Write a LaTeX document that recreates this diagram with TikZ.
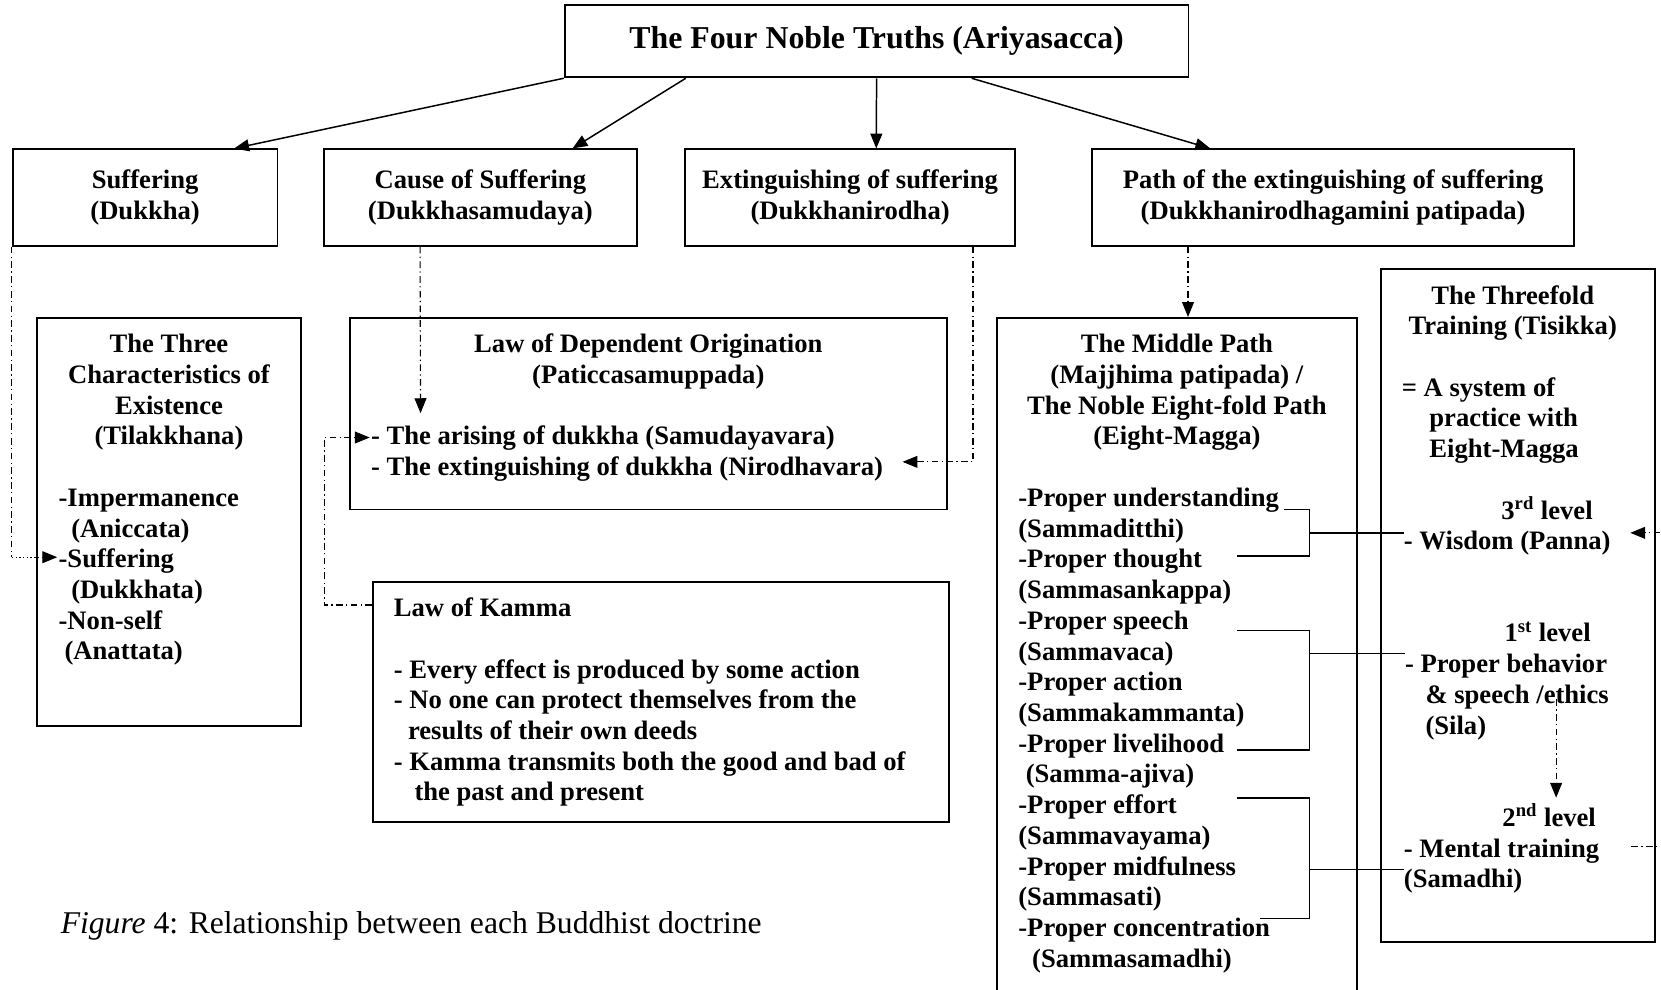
\documentclass[tikz,border=0pt]{standalone}
\usepackage{fontspec}
\setmainfont{Liberation Serif}
\usetikzlibrary{arrows.meta,calc}
\newcommand\bdfont{\fontsize{14.3}{16.5}\selectfont\bfseries}
\newcommand\ttlfont{\fontsize{17.1}{19.7}\selectfont\bfseries}
\newcommand\capfont{\fontsize{17}{19.6}\selectfont}
\begin{document}
\begin{tikzpicture}[x=0.02cm,y=-0.02cm,
  >={Triangle[length=8pt,width=6.4pt]},
  box/.style={draw,line width=1pt,inner sep=0pt,font=\bdfont},
  txt/.style={inner sep=0pt,font=\bdfont},
  solidarrow/.style={line width=0.8pt,->},
  brk/.style={line width=0.8pt},
  dd/.style={line width=0.6pt,dash pattern=on 3.6pt off 1.8pt on 0.7pt off 1.8pt},
  dotline/.style={line width=0.6pt,dash pattern=on 0.8pt off 1.2pt}]
\useasboundingbox (0,0) rectangle (1568,934);
\fill[white] (0,0) rectangle (1568,934);
\clip (0,0) rectangle (1568,934);

% Multi-line text nodes are placed by the baseline of their last line.

% ---- the four truths ----
\node[box,minimum width=11.78cm,minimum height=1.36cm,font=\ttlfont] (truths) at (827.5,39)
  {The Four Noble Truths (Ariyasacca)};
\node[box,align=center,minimum width=5cm,minimum height=1.82cm] (suffer) at (137,186.5)
  {Suffering\\(Dukkha)};
\node[box,align=center,minimum width=5.9cm,minimum height=1.82cm] (cause) at (453.5,186.5)
  {Cause of Suffering\\(Dukkhasamudaya)};
\node[box,align=center,minimum width=6.22cm,minimum height=1.82cm] (extin) at (802.5,186.5)
  {Extinguishing of suffering\\(Dukkhanirodha)};
\node[box,align=center,minimum width=9.1cm,minimum height=1.82cm] (pathb) at (1258.5,186.5)
  {Path of the extinguishing of suffering\\(Dukkhanirodhagamini patipada)};

\draw[solidarrow] (truths.south west) -- ($(suffer.north west)!0.834!(suffer.north east)$);
\draw[solidarrow] ($(truths.south west)!0.195!(truths.south east)$) -- ($(cause.north west)!0.793!(cause.north east)$);
\draw[solidarrow] (truths.south) -- ($(extin.north west)!0.579!(extin.north east)$);
\draw[solidarrow] ($(truths.south west)!0.652!(truths.south east)$) -- ($(pathb.north west)!0.246!(pathb.north east)$);

% ---- three characteristics ----
\node[box,minimum width=4.98cm,minimum height=7.7cm] (tilak) at (159.5,492.5) {};
\node[txt,align=center,anchor=base] (tilakHead) at (159.5,420)
  {The Three\\Characteristics of\\Existence\\(Tilakkhana)};
\node[txt,align=left,anchor=base west] (tilakList) at (55,623)
  {-Impermanence\\\hspace*{6.8pt}(Aniccata)\\-Suffering\\\hspace*{6.8pt}(Dukkhata)\\-Non-self\\\hspace*{3.2pt}(Anattata)};

% ---- dependent origination ----
\node[box,minimum width=11.28cm,minimum height=3.62cm] (depor) at (612,390.5) {};
\node[txt,align=center,anchor=base] (deporHead) at (612,362)
  {Law of Dependent Origination\\(Paticcasamuppada)};
\node[txt,align=left,anchor=base west] (deporList) at (350,449)
  {- The arising of dukkha (Samudayavara)\\- The extinguishing of dukkha (Nirodhavara)};

% ---- law of kamma ----
\node[box,minimum width=10.88cm,minimum height=4.54cm] (kamma) at (624,662.5) {};
\node[txt,align=left,anchor=base west] (kammaText) at (371.5,756)
  {Law of Kamma\\[16.5pt]- Every effect is produced by some action\\- No one can protect themselves from the\\\hspace*{7.6pt}results of their own deeds\\- Kamma transmits both the good and bad of\\\hspace*{11.1pt}the past and present};

% ---- middle path ----
\node[box,minimum width=6.8cm,minimum height=13.2cm] (middle) at (1111,630) {};
\node[txt,align=center,anchor=base] (midHead) at (1111,420)
  {The Middle Path\\(Majjhima patipada) /\\The Noble Eight-fold Path\\(Eight-Magga)};
\node[txt,align=left,anchor=base west] (midList) at (961,913)
  {-Proper understanding\\(Sammaditthi)\\-Proper thought\\(Sammasankappa)\\-Proper speech\\(Sammavaca)\\-Proper action\\(Sammakammanta)\\-Proper livelihood\\\hspace*{4pt}(Samma-ajiva)\\-Proper effort\\(Sammavayama)\\-Proper midfulness\\(Sammasati)\\-Proper concentration\\\hspace*{7.4pt}(Sammasamadhi)};

% ---- threefold training ----
\node[box,minimum width=5.16cm,minimum height=12.7cm] (three) at (1433,571.5) {};
\node[txt,align=center,anchor=base] (threeHead) at (1428,316)
  {The Threefold\\Training (Tisikka)};
\node[txt,align=left,anchor=base west] (threeSys) at (1323,432)
  {= A system of\\\hspace*{14.8pt}practice with\\\hspace*{14.8pt}Eight-Magga};
\node[txt,anchor=base west] (lvlThree) at (1417,490) {3\textsuperscript{rd} level};
\node[txt,anchor=base west] (wisdom) at (1325,519) {- Wisdom (Panna)};
\node[txt,anchor=base west] (lvlOne) at (1420,606) {1\textsuperscript{st} level};
\node[txt,align=left,anchor=base west] (sila) at (1326,693)
  {- Proper behavior\\\hspace*{11pt}\& speech /ethics\\\hspace*{11pt}(Sila)};
\node[txt,anchor=base west] (lvlTwo) at (1418,780) {2\textsuperscript{nd} level};
\node[txt,align=left,anchor=base west] (samadhi) at (1325,838)
  {- Mental training\\(Samadhi)};

% ---- caption ----
\node[inner sep=0pt,anchor=base west,font=\capfont] (caption) at (57,881)
  {\textit{Figure} 4: Relationship between each Buddhist doctrine};

% ---- dash-dot links ----
\coordinate (tsTip) at (54,526);
\draw[dd] (suffer.south west) -- (suffer.south west |- tsTip) coordinate (tsCorner);
\draw[dotline,->] (tsCorner) -- (tsTip);

\coordinate (deporDown) at (397,390);
\draw[dd,->] ($(cause.south west)!0.308!(cause.south east)$) -- (deporDown);

\coordinate (extTip) at (852,436);
\draw[dd,->] ($(extin.south west)!0.871!(extin.south east)$) |- (extTip);

\coordinate (ariseTip) at (349,413);
\coordinate (kammaIn) at ($(kamma.north west)+(0,23)$);
\draw[dd,->] (kammaIn) -- ++(-45,0) |- (ariseTip);

\coordinate (pathOut) at ($(pathb.south west)!0.2!(pathb.south east)$);
\draw[dd,->] (pathOut) -- (pathOut |- middle.north);

\coordinate (silaA) at (1469,660);
\coordinate (silaB) at (1469,753);
\draw[dd,->] (silaA) -- (silaB);

\coordinate (mtR) at (1540,799);
\coordinate (wzR) at (1539,503);
\draw[dd,->] (mtR) -- ++(60,0) |- (wzR);

% ---- brackets joining the eight factors to the three levels ----
\coordinate (b1a) at (1212,481);
\coordinate (b1m) at (1236,503);
\coordinate (b1b) at (1168,525);
\draw[brk] (b1a) -| (b1m) |- (b1b);
\draw[brk] (b1m) -- (b1m -| wisdom.west);

\coordinate (b2a) at (1168,595);
\coordinate (b2m) at (1236,617);
\coordinate (b2b) at (1168,708);
\draw[brk] (b2a) -| (b2m) |- (b2b);
\draw[brk] (b2m) -- (b2m -| sila.west);

\coordinate (b3a) at (1168,753.5);
\coordinate (b3m) at (1236,821);
\coordinate (b3b) at (1189,867);
\draw[brk] (b3a) -| (b3m) |- (b3b);
\draw[brk] (b3m) -- (b3m -| samadhi.west);
\end{tikzpicture}
\end{document}
